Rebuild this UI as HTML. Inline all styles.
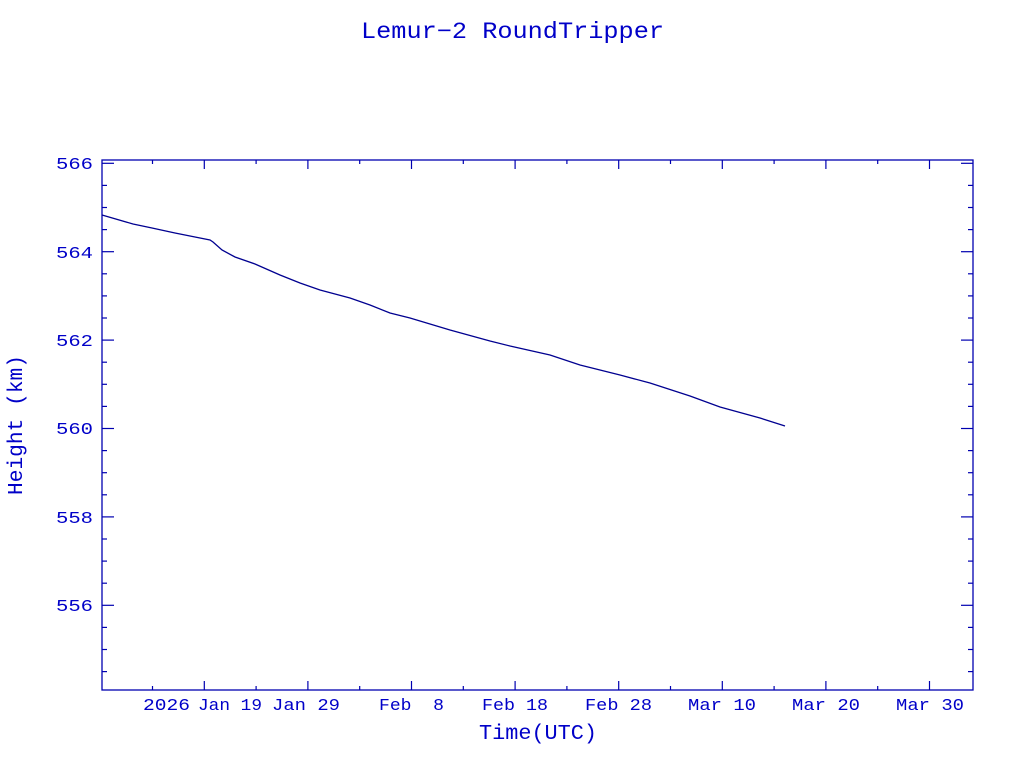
<!DOCTYPE html>
<html><head><meta charset="utf-8"><style>
body{margin:0;background:#fff;}
svg text{font-family:"Liberation Mono",monospace;fill:#0000c8;}
</style></head><body>
<svg id="s" width="1024" height="768" xmlns="http://www.w3.org/2000/svg">
<rect width="1024" height="768" fill="#fff"/>
<text x="361" y="38" font-size="23" textLength="303" lengthAdjust="spacingAndGlyphs">Lemur−2 RoundTripper</text>
<rect x="102" y="160" width="871" height="530" fill="none" stroke="#0000b0" stroke-width="1.3"/>
<g id="ticks" stroke="#0000b0" stroke-width="1.2"></g>
<g font-size="17">
<text x="56" y="169" textLength="37" lengthAdjust="spacingAndGlyphs">566</text>
<text x="56" y="258" textLength="37" lengthAdjust="spacingAndGlyphs">564</text>
<text x="56" y="346" textLength="37" lengthAdjust="spacingAndGlyphs">562</text>
<text x="56" y="434" textLength="37" lengthAdjust="spacingAndGlyphs">560</text>
<text x="56" y="523" textLength="37" lengthAdjust="spacingAndGlyphs">558</text>
<text x="56" y="611" textLength="37" lengthAdjust="spacingAndGlyphs">556</text>
</g>
<g font-size="17">
<text x="143" y="710" textLength="47" lengthAdjust="spacingAndGlyphs">2026</text>
<text x="198" y="710" textLength="64" lengthAdjust="spacingAndGlyphs">Jan 19</text>
<text x="272" y="710" textLength="68" lengthAdjust="spacingAndGlyphs">Jan 29</text>
<text x="379" y="710" textLength="65" lengthAdjust="spacingAndGlyphs">Feb&#160;&#160;8</text>
<text x="482" y="710" textLength="66" lengthAdjust="spacingAndGlyphs">Feb 18</text>
<text x="585" y="710" textLength="67" lengthAdjust="spacingAndGlyphs">Feb 28</text>
<text x="688" y="710" textLength="68" lengthAdjust="spacingAndGlyphs">Mar 10</text>
<text x="792" y="710" textLength="68" lengthAdjust="spacingAndGlyphs">Mar 20</text>
<text x="896" y="710" textLength="68" lengthAdjust="spacingAndGlyphs">Mar 30</text>
</g>
<text x="479" y="739" font-size="21" textLength="118" lengthAdjust="spacingAndGlyphs">Time(UTC)</text>
<text transform="translate(22,495) rotate(-90)" font-size="21" textLength="140" lengthAdjust="spacingAndGlyphs">Height (km)</text>
<polyline fill="none" stroke="#000090" stroke-width="1.3" points="102,215 133,224 152,228 175,233 195,237 210,240 213,242 222,250 235,257 255,264 280,275 300,283 320,290 350,298 370,305 390,313 410,318 450,330 490,341 510,346 550,355 580,365 620,375 650,383 690,396 720,407 760,418 785,426"/>
</svg>
<script>
var g=document.getElementById('ticks'),h='';
for(var i=0;i<=23;i++){var y=163.3+i*22.1;if(y>689)break;var L=(i%4==0)?12:5;
h+='<line x1="102" y1="'+y+'" x2="'+(102+L)+'" y2="'+y+'"/><line x1="973" y1="'+y+'" x2="'+(973-L)+'" y2="'+y+'"/>';}
for(var k=0;k<17;k++){var x=152.5+k*51.8;if(x>972)break;var L=(k%2==1)?9:4;
h+='<line x1="'+x+'" y1="690" x2="'+x+'" y2="'+(690-L)+'"/><line x1="'+x+'" y1="160" x2="'+x+'" y2="'+(160+L)+'"/>';}
g.innerHTML=h;
</script>
</body></html>
